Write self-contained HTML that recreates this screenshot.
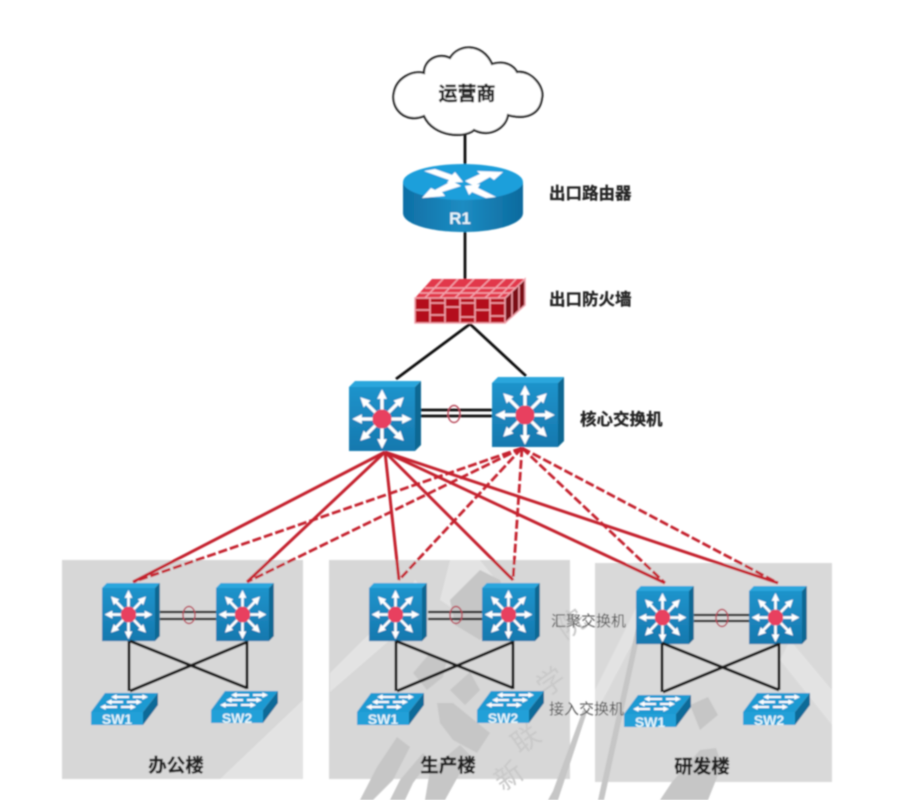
<!DOCTYPE html>
<html><head><meta charset="utf-8"><style>
html,body{margin:0;padding:0;background:#fff}
svg{display:block}
text{font-family:"Liberation Sans","Noto Sans CJK SC",sans-serif}
</style></head><body>
<svg width="906" height="800" viewBox="0 0 906 800" xmlns="http://www.w3.org/2000/svg">
<defs>
<filter id="b" x="-5%" y="-5%" width="110%" height="110%"><feGaussianBlur stdDeviation="0.7"/></filter>
<linearGradient id="front" x1="0" y1="0" x2="0" y2="1"><stop offset="0" stop-color="#1f93cb"/><stop offset="1" stop-color="#1678ae"/></linearGradient>
<linearGradient id="rside" x1="0" y1="0" x2="1" y2="0"><stop offset="0" stop-color="#0f6fa5"/><stop offset=".5" stop-color="#1c8cc2"/><stop offset="1" stop-color="#0c6a9e"/></linearGradient>
<marker id="ah" viewBox="0 0 10 10" refX="3" refY="5" markerWidth="3" markerHeight="3" orient="auto"><path d="M0 0L10 5L0 10Z" fill="#fff"/></marker>
<marker id="as" viewBox="0 0 10 10" refX="3" refY="5" markerWidth="3" markerHeight="2.8" orient="auto"><path d="M0 0L10 5L0 10Z" fill="#fff"/></marker>
<g id="l3">
<polygon points="0,0 6,-6 72,-6 66,0" fill="#2aa6dc"/>
<polygon points="66,0 72,-6 72,58 66,64" fill="#0c6793"/>
<rect width="66" height="64" fill="url(#front)"/>
<g stroke="#fff" stroke-width="3.2" fill="none">
<line x1="33" y1="32" x2="33" y2="9" marker-end="url(#ah)"/>
<line x1="33" y1="32" x2="33" y2="55" marker-end="url(#ah)"/>
<line x1="33" y1="32" x2="10" y2="32" marker-end="url(#ah)"/>
<line x1="33" y1="32" x2="56" y2="32" marker-end="url(#ah)"/>
<line x1="33" y1="32" x2="16" y2="15" marker-end="url(#ah)"/>
<line x1="33" y1="32" x2="50" y2="15" marker-end="url(#ah)"/>
<line x1="33" y1="32" x2="16" y2="49" marker-end="url(#ah)"/>
<line x1="33" y1="32" x2="50" y2="49" marker-end="url(#ah)"/>
</g>
<circle cx="33" cy="32" r="9.5" fill="#e8405f"/>
</g>
<g id="acc">
<polygon points="0,0 14,-19 67,-19 52,0" fill="#1f9ad2"/>
<polygon points="52,0 67,-19 67,-7 52,13" fill="#0d6b98"/>
<rect width="52" height="13" fill="#22a0d8"/>
<g stroke="#fff" stroke-width="2" fill="none">
<line x1="38" y1="-15" x2="24" y2="-15" marker-end="url(#as)"/><line x1="42" y1="-15" x2="53" y2="-15" marker-end="url(#as)"/>
<line x1="32" y1="-10" x2="19" y2="-10" marker-end="url(#as)"/><line x1="36" y1="-10" x2="47" y2="-10" marker-end="url(#as)"/>
<line x1="26" y1="-5" x2="13" y2="-5" marker-end="url(#as)"/><line x1="30" y1="-5" x2="41" y2="-5" marker-end="url(#as)"/>
</g>
</g>
</defs>
<rect width="906" height="800" fill="#fff"/>
<g filter="url(#b)">
<!-- boxes -->
<rect x="62" y="560" width="241" height="219" fill="#d7d7d7"/>
<rect x="329" y="560" width="241" height="219" fill="#d7d7d7"/>
<rect x="595" y="563" width="237" height="219" fill="#d9d9d9"/>
<!-- watermark light -->
<g fill="#e3e3e3">
<polygon points="303,700 303,779 220,779"/>
<polygon points="330,673 363,640 395,610 415,580 425,590 390,640 330,692"/>
<polygon points="450,560 480,560 500,585 470,620 440,600"/>
<polygon points="790,640 832,690 832,725 780,660"/>
<polygon points="595,690 640,600 650,610 595,715"/>
</g>
<!-- watermark dark -->
<g fill="#c6c6c6">
<polygon points="413,673 430,653 447,660 443,677 427,690"/>
<polygon points="437,703 453,703 490,733 477,753 453,740 440,723"/>
<polygon points="450,690 470,672 480,690 465,705"/>
<polygon points="377,767 397,737 410,747 393,780 373,800 360,800"/>
<polygon points="400,780 423,753 430,760 413,783 405,800 390,800"/>
<polygon points="430,770 460,745 470,755 445,800 425,800"/>
<polygon points="450,600 480,570 500,580 510,610 480,640 455,625"/>
<polygon points="553,791 583,710 587,712 558,800 548,800"/>
<polygon points="598,800 640,610 645,612 604,800"/>
<polygon points="672,782 700,750 716,748 722,765 708,800 660,800"/>
<polygon points="690,705 708,697 718,715 700,730"/>
</g>
<g fill="#c9c9c9" font-size="28">
<text transform="translate(503,792) rotate(-35)">新</text>
<text transform="translate(520,755) rotate(-35)">联</text>
<text transform="translate(545,698) rotate(-35)">学</text>
<text transform="translate(565,640) rotate(-35)">院</text>
</g>
<!-- top black links -->
<g stroke="#111" stroke-width="2.8" fill="none">
<line x1="465" y1="130" x2="465" y2="170"/>
<line x1="465" y1="230" x2="465" y2="282"/>
<line x1="470" y1="324" x2="396" y2="379"/>
<line x1="470" y1="324" x2="526" y2="376"/>
<line x1="421" y1="410" x2="492" y2="410"/>
<line x1="421" y1="416" x2="492" y2="416"/>
</g>
<ellipse cx="454" cy="414" rx="6" ry="8.5" fill="none" stroke="#b8485a" stroke-width="1.4"/>
<!-- red links -->
<g stroke="#c5202f" stroke-width="3" fill="none">
<line x1="385" y1="452" x2="133" y2="582"/>
<line x1="385" y1="452" x2="247" y2="582"/>
<line x1="385" y1="452" x2="399" y2="580"/>
<line x1="385" y1="452" x2="513" y2="580"/>
<line x1="385" y1="452" x2="665" y2="583"/>
<line x1="385" y1="452" x2="778" y2="583"/>
</g>
<g stroke="#c5202f" stroke-width="2.8" fill="none" stroke-dasharray="9 3">
<line x1="522" y1="448" x2="133" y2="582"/>
<line x1="522" y1="448" x2="247" y2="582"/>
<line x1="522" y1="448" x2="399" y2="580"/>
<line x1="522" y1="448" x2="513" y2="580"/>
<line x1="522" y1="448" x2="665" y2="583"/>
<line x1="522" y1="448" x2="778" y2="583"/>
</g>
<!-- cloud -->
<path d="M424 116C405 124 390 108 394 92C397 78 412 70 424 73C424 60 438 52 450 58C458 44 482 42 492 64C505 60 514 66 517 72C532 70 545 88 542 98C540 115 525 120 508 115C506 128 490 138 474 130C466 138 434 138 424 116Z" fill="#fff" stroke="#222" stroke-width="2.2"/>
<text x="467" y="100" font-size="19" font-weight="700" text-anchor="middle" fill="#222" stroke="#222" stroke-width=".4">运营商</text>
<!-- router -->
<path d="M403 182V213C403 224 430 232 463 232C496 232 523 224 523 213V182Z" fill="url(#rside)"/>
<ellipse cx="463" cy="182" rx="60" ry="18" fill="#1e9fdb"/>
<g fill="#fff">
<polygon points="424,171 435,169 452,175 455,172 463,182 447,183 449,180"/>
<polygon points="465,181 480,174 477,171 503,172 494,180 490,177 474,186"/>
<polygon points="461,186 442,192 445,196 422,198 431,188 435,190 452,181"/>
<polygon points="496,197 486,198 472,192 469,195 465,186 480,184 478,188"/>
</g>
<text x="460" y="224" font-size="17" font-weight="700" text-anchor="middle" fill="#e8f4fa">R1</text>
<!-- firewall -->
<polygon points="415,298 432,279 525,279 505,298" fill="#e2384c"/>
<polygon points="505,298 525,279 525,305 505,323" fill="#7d0a12"/>
<rect x="415" y="298" width="90" height="25" fill="#b4101d"/>
<g stroke="#f2a4ae" stroke-width="1.5" fill="none">
<path d="M415 298H505V323H415Z"/>
<path d="M430 298V323M445 298V323M460 298V323M475 298V323M490 298V323"/>
<path d="M415 310H430M430 303H445M430 315H445M445 307H460M460 303H475M460 317H475M475 310H490M490 303H505M490 316H505"/>
<path d="M425 288H516M420 293H510M443 279L425 298M458 279L440 298M474 279L455 298M490 279L470 298M505 279L485 298M516 279L498 298"/>
<path d="M505 298L525 279V305L505 323M512 292V317M519 286V310"/>
</g>
<!-- switches -->
<use href="#l3" transform="translate(349,387)"/>
<use href="#l3" transform="translate(492,383)"/>
<use href="#l3" transform="translate(102,588) scale(.803,.83)"/>
<use href="#l3" transform="translate(216,588) scale(.803,.83)"/>
<use href="#l3" transform="translate(369,588) scale(.803,.83)"/>
<use href="#l3" transform="translate(482,588) scale(.803,.83)"/>
<use href="#l3" transform="translate(636,591) scale(.803,.83)"/>
<use href="#l3" transform="translate(749,591) scale(.803,.83)"/>
<!-- dist pair links -->
<g stroke="#111" stroke-width="2.3" fill="none">
<path d="M160 612H216M160 619H216M428 612H482M428 619H482M694 615H749M694 621H749"/>
</g>
<g fill="none" stroke="#b8485a" stroke-width="1.4">
<ellipse cx="189" cy="615" rx="6" ry="8.5"/><ellipse cx="456" cy="615" rx="6" ry="8.5"/><ellipse cx="722" cy="618" rx="6" ry="8.5"/>
</g>
<!-- access links -->
<g stroke="#1a1a1a" stroke-width="3" fill="none">
<path d="M129 641V691M247 641V689M130 641L247 688M247 642L130 691"/>
<path d="M396 641V691M513 641V689M396 641L513 688M513 642L397 691"/>
<path d="M662 643V692M779 643V690M662 643L779 690M779 644L663 692"/>
</g>
<!-- access -->
<use href="#acc" transform="translate(91,712)"/>
<use href="#acc" transform="translate(211,710)"/>
<use href="#acc" transform="translate(357,712)"/>
<use href="#acc" transform="translate(477,710)"/>
<use href="#acc" transform="translate(624,714)"/>
<use href="#acc" transform="translate(743,712)"/>
<g font-size="14" font-weight="700" fill="#e6f5fb" text-anchor="middle">
<text x="117" y="724">SW1</text><text x="237" y="723">SW2</text>
<text x="383" y="724">SW1</text><text x="503" y="723">SW2</text>
<text x="650" y="727">SW1</text><text x="769" y="725">SW2</text>
</g>
<!-- labels -->
<g font-size="16.5" font-weight="700" fill="#222" stroke="#222" stroke-width=".3">
<text x="549" y="199">出口路由器</text>
<text x="549" y="305">出口防火墙</text>
<text x="580" y="425">核心交换机</text>
</g>
<g font-size="15" fill="#555">
<text x="551" y="626">汇聚交换机</text>
<text x="549" y="714">接入交换机</text>
</g>
<g font-size="18.5" font-weight="700" fill="#222" text-anchor="middle" stroke="#222" stroke-width=".3">
<text x="176" y="772">办公楼</text>
<text x="448" y="772">生产楼</text>
<text x="702" y="773">研发楼</text>
</g>
</g>
</svg>
</body></html>
